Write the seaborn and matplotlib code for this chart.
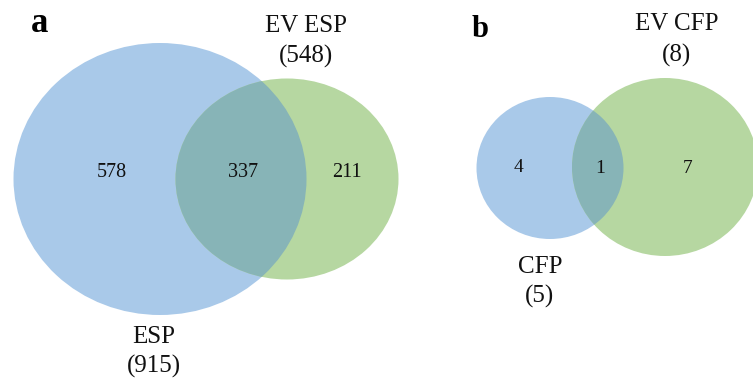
import matplotlib
matplotlib.use("Agg")
import matplotlib.pyplot as plt
from matplotlib.patches import Ellipse
import seaborn as sns

sns.set_theme(style="white")
plt.rcParams['font.family'] = ['Liberation Serif', 'DejaVu Serif']

# Data
panels = ["a", "b"]
set_names_left = ["ESP", "CFP"]
set_names_right = ["EV ESP", "EV CFP"]
set_sizes_left = [915, 5]
set_sizes_right = [548, 8]
only_left = [578, 4]
both = [337, 1]
only_right = [211, 7]

# Layout (pixel coordinates of the figure)
left_ell = [(160, 179, 293, 272), (550, 168, 147, 142)]
right_ell = [(287, 179, 223, 201), (665, 167, 186, 178)]
count_pos = [((112, 177), (243, 177), (347, 177)), ((519, 172), (600, 173), (688, 173))]
count_size = [14.5, 14]
panel_pos = [(40, 32), (480, 37)]
panel_size = [25, 22]
right_label_pos = [((306, 32), (306, 63)), ((677, 30), (677, 62))]
left_label_pos = [((154, 343), (154, 373)), ((540, 273), (540, 303))]

blue = "#a9c9e9"
green = "#b6d7a1"
mix = "#87b4b7"

fig = plt.figure(figsize=(7.53, 3.78), dpi=100)
ax = fig.add_axes([0, 0, 1, 1])
ax.set_xlim(0, 753)
ax.set_ylim(378, 0)
ax.axis("off")

for i in range(2):
    lx, ly, lw, lh = left_ell[i]
    rx, ry, rw, rh = right_ell[i]
    e1 = Ellipse((lx, ly), lw, lh, facecolor=blue, edgecolor="none")
    e2 = Ellipse((rx, ry), rw, rh, facecolor=green, edgecolor="none")
    ax.add_patch(e1)
    ax.add_patch(e2)
    e3 = Ellipse((rx, ry), rw, rh, facecolor=mix, edgecolor="none")
    ax.add_patch(e3)
    e3.set_clip_path(e1)

    vals = [only_left[i], both[i], only_right[i]]
    for (x, y), v in zip(count_pos[i], vals):
        ax.text(x, y, str(v), ha="center", va="baseline", fontsize=count_size[i],
                color="#111111")

    px, py = panel_pos[i]
    ax.text(px, py, panels[i], ha="center", va="baseline", fontsize=panel_size[i],
            fontweight="bold", color="black")

    (x1, y1), (x2, y2) = right_label_pos[i]
    ax.text(x1, y1, set_names_right[i], ha="center", va="baseline", fontsize=18,
            color="#111111")
    ax.text(x2, y2, f"({set_sizes_right[i]})", ha="center", va="baseline",
            fontsize=18, color="#111111")
    (x1, y1), (x2, y2) = left_label_pos[i]
    ax.text(x1, y1, set_names_left[i], ha="center", va="baseline", fontsize=18,
            color="#111111")
    ax.text(x2, y2, f"({set_sizes_left[i]})", ha="center", va="baseline",
            fontsize=18, color="#111111")

fig.savefig("out.png", dpi=100)
